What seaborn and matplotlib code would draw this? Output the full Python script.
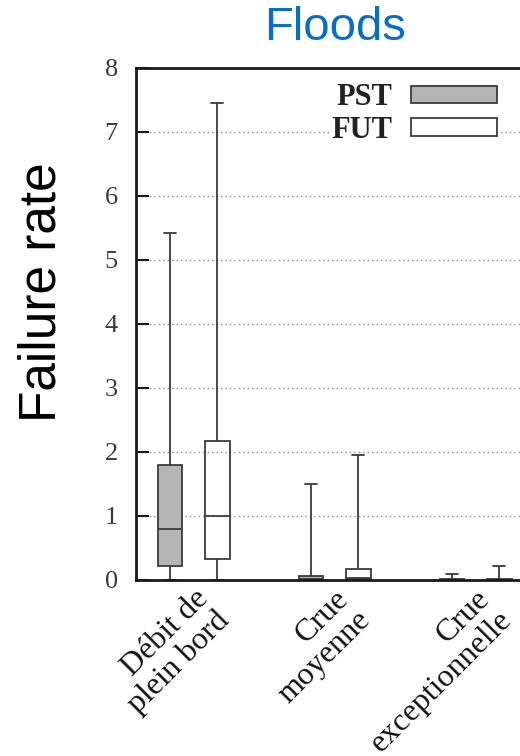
import numpy as np
import pandas as pd
import matplotlib
matplotlib.use("Agg")
import matplotlib.pyplot as plt
import seaborn as sns
from matplotlib.patches import Patch

categories = ["Débit de\nplein bord", "Crue\nmoyenne", "Crue\nexceptionnelle"]
periods = ["PST", "FUT"]
# five-number summary per box: min, q1, median, q3, max
pst_stats = [
    [0.0, 0.22, 0.80, 1.80, 5.42],
    [0.0, 0.00, 0.02, 0.07, 1.50],
    [0.0, 0.00, 0.00, 0.01, 0.10],
]
fut_stats = [
    [0.0, 0.33, 1.00, 2.17, 7.45],
    [0.0, 0.01, 0.03, 0.17, 1.95],
    [0.0, 0.00, 0.00, 0.01, 0.22],
]
yticks = [0, 1, 2, 3, 4, 5, 6, 7, 8]

PST_COLOR = "#b4b4b4"
EDGE = "#3c3c3c"

rows = []
for period, stats in zip(periods, [pst_stats, fut_stats]):
    for cat, vals in zip(categories, stats):
        for v in vals:
            rows.append({"category": cat, "period": period, "value": v})
df = pd.DataFrame(rows)

sns.set_style("ticks")
plt.rcParams["font.family"] = ["Liberation Serif", "DejaVu Serif"]

fig = plt.figure(figsize=(5.2, 7.56), dpi=100)
ax = fig.add_axes([136 / 520, 1 - 580 / 756, (575 - 136) / 520, 512 / 756])

sns.boxplot(
    data=df, x="category", y="value", hue="period",
    order=categories, hue_order=periods,
    palette={"PST": PST_COLOR, "FUT": "white"},
    whis=(0, 100), width=0.667, gap=0.47, dodge=True,
    linecolor=EDGE, linewidth=1.3, legend=False, ax=ax,
)

# FUT boxes are see-through in the reference
for p in ax.patches:
    fc = p.get_facecolor()
    if fc[0] > 0.95 and fc[1] > 0.95 and fc[2] > 0.95:
        p.set_facecolor("none")

ax.set_axisbelow(True)
ax.yaxis.grid(True, linestyle=(0, (1, 2.2)), color="#8a8a8a", linewidth=1.0)
ax.xaxis.grid(False)

ax.set_xlim(-0.408, -0.408 + 439 / 141)
ax.set_ylim(0, 8)
ax.set_yticks(yticks)
ax.set_xlabel("")
ax.set_ylabel("")

for side in ["left", "bottom", "top", "right"]:
    ax.spines[side].set_visible(True)
    ax.spines[side].set_linewidth(2.0)
    ax.spines[side].set_color("#1a1a1a")

ax.tick_params(axis="y", direction="in", length=9.5, width=1.5, labelsize=19,
               pad=13, color="#1a1a1a", labelcolor="#3a3a3a")
ax.tick_params(axis="x", length=0, labelsize=23, pad=3, labelcolor="#111111")
for lab in ax.get_xticklabels():
    lab.set_rotation(45)
    lab.set_ha("right")
    lab.set_va("top")
    lab.set_rotation_mode("anchor")
    lab.set_linespacing(1.05)

handles = [
    Patch(facecolor=PST_COLOR, edgecolor=EDGE, linewidth=1.3),
    Patch(facecolor="white", edgecolor=EDGE, linewidth=1.3),
]
leg = ax.legend(
    handles, periods, loc="upper right",
    bbox_to_anchor=(512 / 520, 1 - 68 / 756), bbox_transform=fig.transFigure,
    markerfirst=False, frameon=True, facecolor="white", edgecolor="none",
    framealpha=1, fancybox=False, fontsize=22, handlelength=2.8,
    handleheight=0.52, handletextpad=0.62, labelspacing=0.12, borderpad=0.0,
)
for t in leg.get_texts():
    t.set_fontweight("bold")
    t.set_color("#222222")

fig.text(335 / 520, 1 - 28 / 756, "Floods", color="#0a6fc2", fontsize=34,
         ha="center", va="center", family=["Liberation Sans", "DejaVu Sans"])
fig.text(42 / 520, 1 - 292 / 756, "Failure rate", rotation=90, fontsize=37,
         color="black", ha="center", va="center",
         family=["Liberation Sans", "DejaVu Sans"])

fig.savefig("out.png", dpi=100)
